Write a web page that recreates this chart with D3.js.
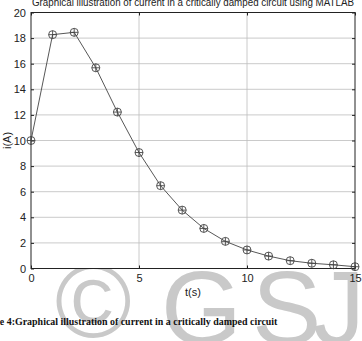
<!DOCTYPE html>
<html>
<head>
<meta charset="utf-8">
<script src="https://cdn.jsdelivr.net/npm/d3@7"></script>
<style>
  html, body { margin: 0; padding: 0; background: #fff; }
  svg { display: block; }
</style>
</head>
<body>
<svg id="chart" width="362" height="341"></svg>
<script>
const timeS = [0, 1, 2, 3, 4, 5, 6, 7, 8, 9, 10, 11, 12, 13, 14, 15];
const currentA = [10, 18.27, 18.45, 15.68, 12.22, 9.06, 6.47, 4.56, 3.13, 2.12, 1.45, 0.97, 0.61, 0.41, 0.29, 0.14];
const xTicks = [0, 5, 10, 15];
const yTicks = [0, 2, 4, 6, 8, 10, 12, 14, 16, 18, 20];

const titleText = "Graphical illustration of current in a critically damped circuit using MATLAB";
const captionText = "Figure 4:Graphical illustration of current in a critically damped circuit";

const W = 362, H = 341;
const margin = { top: 12.5, right: 7, bottom: 72.5, left: 31 };
const innerW = W - margin.left - margin.right;
const innerH = H - margin.top - margin.bottom;

const svg = d3.select("#chart");
const font = "Liberation Sans, Arial, sans-serif";

// watermark, sits under the plot
const wm = svg.append("g").attr("fill", "#c9c9c9")
  .attr("font-family", font).attr("font-size", 104);
wm.append("text").attr("x", 55).attr("y", 337).text("\u00a9");
wm.append("text").attr("x", 161).attr("y", 344).text("G");
wm.append("text").attr("x", 252).attr("y", 344).text("S");
wm.append("text").attr("x", 313).attr("y", 344).text("J");

const x = d3.scaleLinear().domain([0, 15]).range([0, innerW]);
const y = d3.scaleLinear().domain([0, 20]).range([innerH, 0]);

const g = svg.append("g").attr("transform", `translate(${margin.left},${margin.top})`);

g.append("rect").attr("width", innerW).attr("height", innerH).attr("fill", "#fff");

// grid
g.append("g")
  .attr("stroke", "#bdbdbd").attr("stroke-width", 0.8)
  .selectAll("line").data(yTicks.slice(1, -1)).join("line")
  .attr("x1", 0).attr("x2", innerW)
  .attr("y1", (d) => y(d)).attr("y2", (d) => y(d));
g.append("g")
  .attr("stroke", "#bdbdbd").attr("stroke-width", 0.8)
  .selectAll("line").data(xTicks.slice(1, -1)).join("line")
  .attr("y1", 0).attr("y2", innerH)
  .attr("x1", (d) => x(d)).attr("x2", (d) => x(d));

// axes, ticks pointing inward on all sides
function styleAxis(sel) {
  sel.attr("font-family", font).attr("font-size", 11);
  sel.selectAll(".domain").remove();
  sel.selectAll(".tick line").attr("stroke", "#222");
  sel.selectAll(".tick text").attr("fill", "#222");
}
g.append("g").attr("transform", `translate(0,${innerH})`)
  .call(d3.axisBottom(x).tickValues(xTicks).tickSize(-3).tickPadding(6))
  .call(styleAxis);
g.append("g")
  .call(d3.axisLeft(y).tickValues(yTicks).tickSize(-3).tickPadding(5))
  .call(styleAxis);
g.append("g")
  .call(d3.axisTop(x).tickValues(xTicks).tickSize(-3).tickFormat(""))
  .call(styleAxis);
g.append("g").attr("transform", `translate(${innerW},0)`)
  .call(d3.axisRight(y).tickValues(yTicks).tickSize(-3).tickFormat(""))
  .call(styleAxis);

g.append("rect").attr("width", innerW).attr("height", innerH)
  .attr("fill", "none").attr("stroke", "#222").attr("stroke-width", 1);

// series
const pts = timeS.map((t, i) => ({ t, v: currentA[i] }));
g.append("path").datum(pts)
  .attr("fill", "none").attr("stroke", "#444").attr("stroke-width", 0.9)
  .attr("d", d3.line().x((d) => x(d.t)).y((d) => y(d.v)));

const mk = g.append("g").attr("stroke", "#444").attr("stroke-width", 0.9).attr("fill", "none")
  .selectAll("g").data(pts).join("g")
  .attr("transform", (d) => `translate(${x(d.t)},${y(d.v)})`);
mk.append("circle").attr("r", 4);
mk.append("path").attr("d", "M-4,0H4M0,-4V4");

// labels
svg.append("text").attr("x", margin.left + innerW / 2).attr("y", 6)
  .attr("text-anchor", "middle").attr("font-family", font).attr("font-size", 10)
  .attr("fill", "#222").text(titleText)
  .attr("textLength", 322).attr("lengthAdjust", "spacingAndGlyphs");

svg.append("text").attr("x", margin.left + innerW / 2).attr("y", 296)
  .attr("text-anchor", "middle").attr("font-family", font).attr("font-size", 11)
  .attr("fill", "#222").text("t(s)");

svg.append("text")
  .attr("transform", `translate(11,${margin.top + innerH / 2}) rotate(-90)`)
  .attr("text-anchor", "middle").attr("font-family", font).attr("font-size", 11)
  .attr("fill", "#222").text("i(A)");

// caption: the page crop cuts off "Figur" at the left edge
const capFont = "Liberation Serif, Times New Roman, serif";
const cap = svg.append("text").attr("y", 325)
  .attr("font-family", capFont).attr("font-weight", "bold")
  .attr("fill", "#111");
const probe = svg.append("text").attr("font-family", capFont).attr("font-weight", "bold")
  .attr("font-size", 10);
const visible = captionText.slice(5);
const wVis = probe.text(visible).node().getComputedTextLength();
const fs = 10 * 278 / wVis;
probe.attr("font-size", fs).text("Figur");
const wPre = probe.node().getComputedTextLength();
probe.remove();
cap.attr("font-size", fs).attr("x", -wPre).text(captionText);
</script>
</body>
</html>
